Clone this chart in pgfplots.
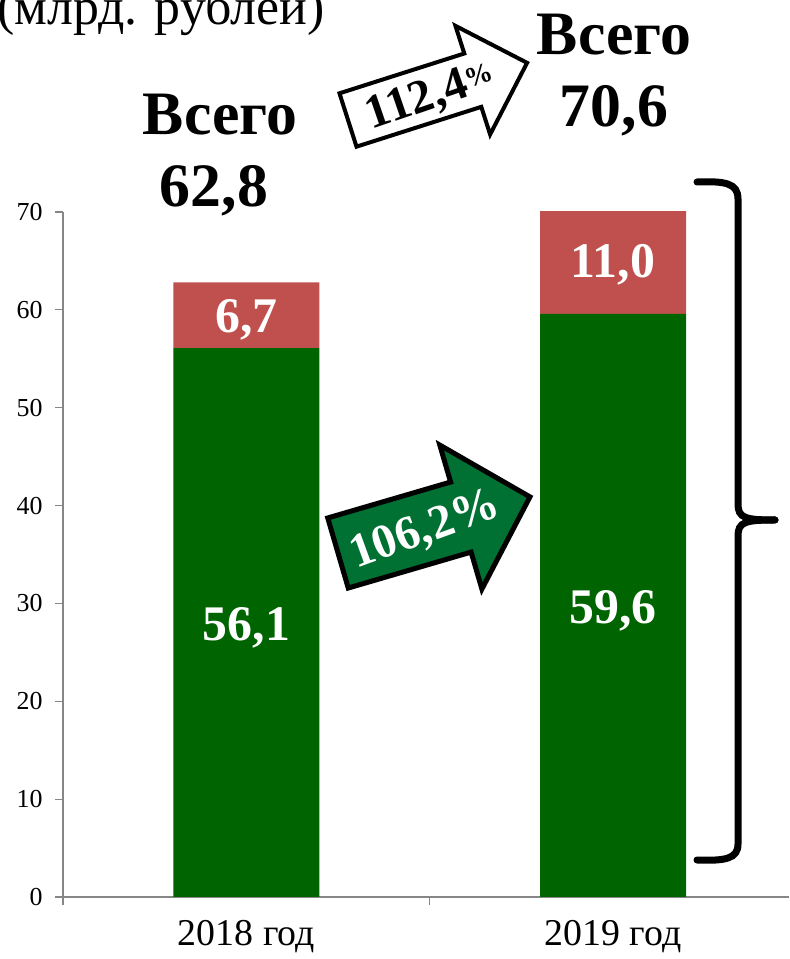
\documentclass[border=0pt]{standalone}
\usepackage{fontspec}
\setmainfont{Liberation Serif}
\usepackage{pgfplots}
\pgfplotsset{compat=1.18}
\definecolor{barG}{HTML}{006400}
\definecolor{barR}{HTML}{C0504D}
\definecolor{arrG}{HTML}{007033}
\definecolor{axG}{HTML}{868686}
\begin{document}
\begin{tikzpicture}[x=1bp,y=1bp]
\path[use as bounding box] (0,0) rectangle (790,959);
\begin{axis}[
  at={(63bp,62bp)}, anchor=south west,
  scale only axis, width=726bp, height=685bp,
  xmin=-0.5, xmax=1.48, ymin=0, ymax=70,
  ybar stacked, bar width=146bp,
  axis x line*=bottom, axis y line*=left,
  axis line style={-, draw=axG, line width=1.2bp},
  tick style={draw=axG, line width=1.2bp},
  tick align=outside,
  major tick length=8bp,
  /pgf/number format/assume math mode=true,
  ytick={0,10,...,70},
  y tick label style={font=\fontsize{26}{30}\selectfont, xshift=-9bp},
  xtick={-0.5,0.5}, xticklabels={},
  extra x ticks={0,1},
  extra x tick labels={2018 год,2019 год},
  extra x tick style={major x tick style={draw=none}, tick label style={font=\fontsize{38}{42}\selectfont, yshift=-12bp}},
]
\addplot[fill=barG, draw=none] coordinates {(0,56.1) (1,59.6)};
\addplot[fill=barR, draw=none] coordinates {(0,6.7) (1,11.0)};
\coordinate (la) at (axis cs:0,28.05);
\coordinate (lb) at (axis cs:1,29.8);
\coordinate (lc) at (axis cs:0,59.45);
\coordinate (ld) at (axis cs:1,65.1);
\end{axis}
\begin{scope}[every node/.style={text=white, font=\bfseries\fontsize{50}{56}\selectfont, inner sep=0, yshift=-5bp}]
\node at (la) {56,1};
\node at (lb) {59,6};
\node at (lc) {6,7};
\node at (ld) {11,0};
\end{scope}
% title (cut off at top)
\node[anchor=base west, inner sep=0, font=\fontsize{52}{56}\selectfont] at (-3,934) {(млрд. рублей)};
% totals
\node[anchor=base, inner sep=0, font=\bfseries\fontsize{62}{70}\selectfont] at (220,824) {Всего};
\node[anchor=base, inner sep=0, font=\bfseries\fontsize{62}{70}\selectfont] at (214,752) {62,8};
\node[anchor=base, inner sep=0, font=\bfseries\fontsize{62}{70}\selectfont] at (614,904) {Всего};
\node[anchor=base, inner sep=0, font=\bfseries\fontsize{62}{70}\selectfont] at (614,832) {70,6};
% outline arrow 112,4%
\begin{scope}[shift={(348,839)}, rotate=17.7]
\draw[line width=4bp, fill=white, line join=miter] (0,-28)--(131,-28)--(131,-57)--(188,0)--(131,57)--(131,28)--(0,28)--cycle;
\node[rotate=19, font=\bfseries\fontsize{48}{52}\selectfont, inner sep=0] at (86,-3) {112,4\raisebox{8bp}{\fontsize{28}{30}\selectfont\%}};
\end{scope}
% green arrow 106,2%
\begin{scope}[shift={(338,406)}, rotate=16.3]
\draw[line width=5bp, fill=arrG, line join=miter] (0,-36.5)--(128,-36.5)--(128,-75)--(200,0)--(128,75)--(128,36.5)--(0,36.5)--cycle;
\node[rotate=20, text=white, font=\bfseries\fontsize{48}{52}\selectfont, inner sep=0] at (90,-3) {106,2\%};
\end{scope}
% brace
\draw[line width=7bp, line cap=round] (697,777) .. controls (725,778) and (738,776) .. (738,760) -- (738,455) .. controls (738,441) and (745,439) .. (775,439);
\draw[line width=7bp, line cap=round] (775,439) .. controls (745,439) and (738,437) .. (738,423) -- (738,115) .. controls (738,100) and (725,98) .. (697,99);
\end{tikzpicture}
\end{document}
